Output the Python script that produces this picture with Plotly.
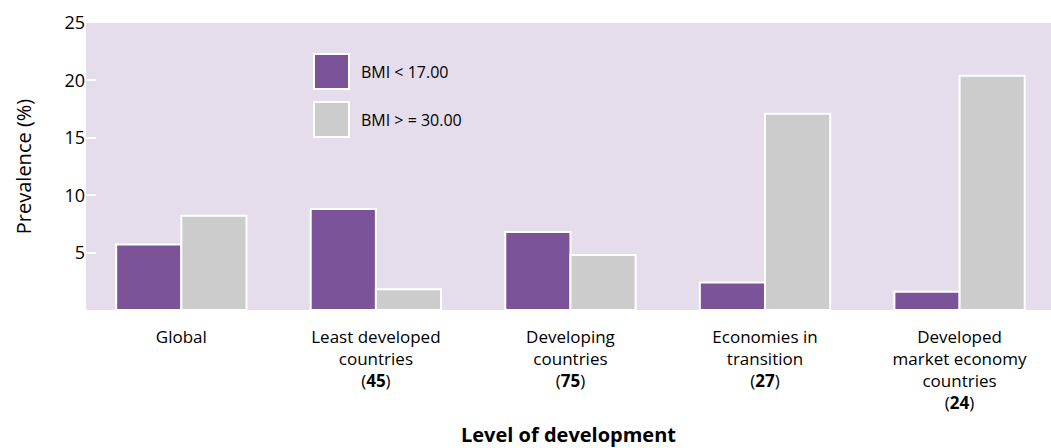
import plotly.graph_objects as go

# data
categories = ["Global", "Least developed", "Developing", "Economies in",
              "Developed<br>market economy"]
category_rest = ["", "countries", "countries", "transition", "countries"]
country_counts = [None, 45, 75, 27, 24]
bmi_under_17 = [5.7, 8.8, 6.8, 2.4, 1.6]
bmi_over_30 = [8.2, 1.8, 4.8, 17.1, 20.4]
series_names = ["BMI < 17.00", "BMI > = 30.00"]
series_colors = ["#7B5399", "#CCCCCC"]
y_ticks = [5, 10, 15, 20, 25]

FONT = "Open Sans"
W, H = 1051, 448
L, R, T, B = 86, 0, 23, 138


def tick_label(name, rest, count):
    parts = [name]
    if rest:
        parts.append(rest)
    if count is not None:
        parts.append(f"(<b>{count}</b>)")
    return "<br>".join(parts)


labels = [tick_label(n, r, c) for n, r, c in zip(categories, category_rest, country_counts)]
xs = list(range(len(categories)))

fig = go.Figure()
for name, values, color in zip(series_names, [bmi_under_17, bmi_over_30], series_colors):
    fig.add_trace(go.Bar(
        name=name, x=xs, y=values,
        marker=dict(color=color, line=dict(color="white", width=2)),
        showlegend=False,
    ))

fig.update_layout(
    width=W, height=H,
    margin=dict(l=L, r=R, t=T, b=B, autoexpand=False),
    paper_bgcolor="white",
    plot_bgcolor="#E5DDEC",
    barmode="group",
    bargap=0.33,
    bargroupgap=0,
    font=dict(family=FONT, size=17, color="#000000"),
)

fig.update_xaxes(
    tickvals=xs, ticktext=labels,
    range=[-0.49, 4.47],
    showgrid=False, zeroline=False, showline=False,
    ticks="", ticklabelstandoff=15, automargin=False,
    tickfont=dict(size=17),
    title=dict(text="<b>Level of development</b>", standoff=23),
)
fig.update_yaxes(
    range=[0, 25], tickvals=y_ticks,
    showgrid=False, zeroline=False, showline=False,
    ticks="inside", ticklen=10, tickwidth=2, tickcolor="white",
    ticklabelstandoff=0, automargin=False,
    tickfont=dict(size=18),
    title=dict(text="Prevalence (%)", standoff=27),
)

# legend drawn as large swatches, like the original
plot_w = W - L - R
plot_h = H - T - B
sw_x0, sw_x1 = (314 - L) / plot_w, (349 - L) / plot_w
sw_rows = [(54, 89), (102, 137)]
for (top, bot), name, color in zip(sw_rows, series_names, series_colors):
    y0 = (H - B - bot) / plot_h
    y1 = (H - B - top) / plot_h
    fig.add_shape(type="rect", xref="paper", yref="paper",
                  x0=sw_x0, x1=sw_x1, y0=y0, y1=y1,
                  fillcolor=color, line=dict(color="white", width=2))
    fig.add_annotation(xref="paper", yref="paper", x=(359 - L) / plot_w,
                       y=(y0 + y1) / 2, text=name, showarrow=False,
                       xanchor="left", yanchor="middle",
                       font=dict(family=FONT, size=16, color="#000000"))

# page body has an 8px default margin; drop it so the chart sits at 0,0
fig.write_html("out.html", config={"displayModeBar": False},
               post_script="document.body.style.margin = '0';")
